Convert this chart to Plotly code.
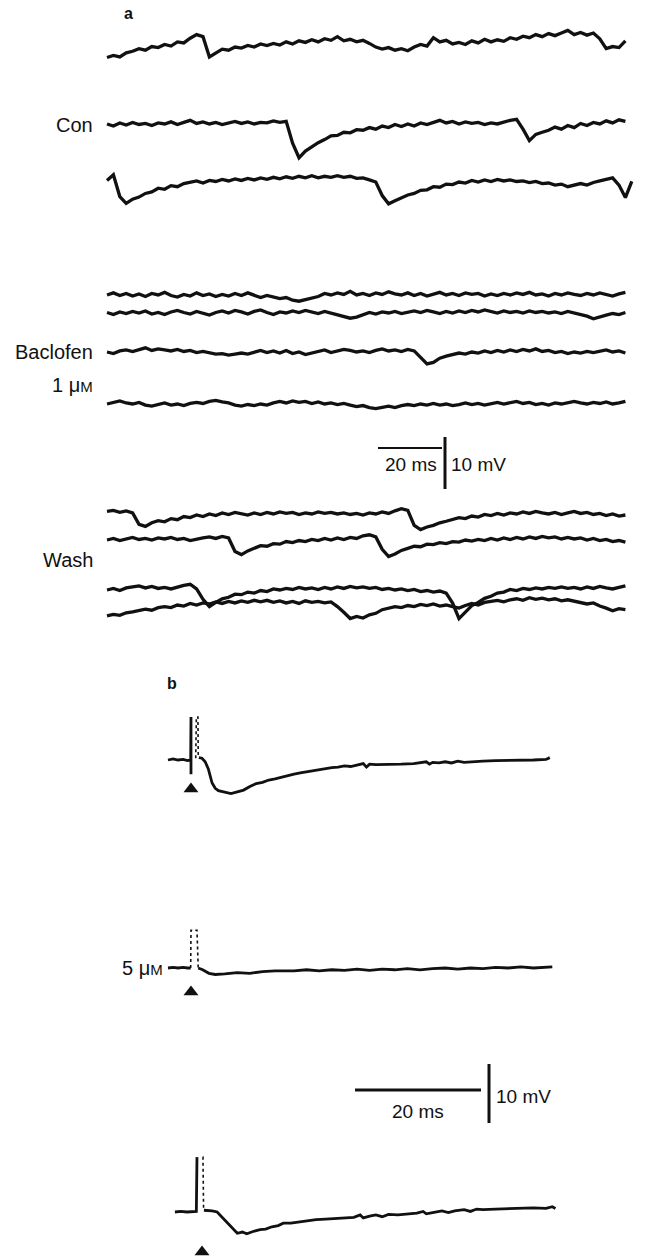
import plotly.graph_objects as go

# ---------------- DATA ----------------
# Panel a: membrane potential (mV, relative to each sweep's resting level), sampled every 2 ms
DT_A = 2.0
con_1 = [-2.4, -2.0, -2.3, -1.5, -1.2, -0.7, -1.0, -0.3, -0.5, 0.1, -0.2, 0.6, 0.4, 1.3, 2.0, 1.6,
         -2.3, -1.6, -0.8, -1.0, -0.4, -0.6, -0.1, -0.4, 0.2, -0.1, 0.3, 0.0, 0.6, 0.2, 0.8, 0.5,
         1.0, 0.6, 1.2, 0.9, 1.6, 0.8, 1.1, 0.6, 0.9, 0.3, -0.4, -0.8, -0.5, -1.0, -0.7, -1.1,
         -0.4, 0.1, -0.2, 1.4, 0.6, 0.9, 0.2, 0.5, 0.1, 0.8, 0.4, 1.1, 0.6, 1.0, 0.7, 1.4, 1.1,
         1.7, 1.4, 2.0, 1.6, 2.2, 1.8, 2.3, 2.8, 2.0, 2.4, 1.9, 2.3, 1.2, -0.7, -0.3, -0.5, 0.8]
con_2 = [0.2, -0.2, 0.4, 0.0, 0.5, 0.1, 0.3, -0.1, 0.4, 0.2, 0.6, 0.1, 0.5, 0.9, 0.3, 0.6,
         0.2, 0.5, 0.1, 0.4, 0.7, 0.3, 0.6, 0.2, 0.5, 0.4, 0.8, 0.5, 0.7, -3.5, -6.3, -5.0,
         -4.2, -3.4, -2.8, -2.1, -2.0, -1.4, -1.5, -0.9, -1.0, -0.5, -0.8, -0.2, -0.5, 0.1,
         -0.3, 0.2, -0.2, 0.4, 0.1, 0.5, 0.9, 0.4, 0.7, 0.2, 0.6, 0.3, 0.5, 0.1, 0.4, 0.2,
         0.6, 0.9, 1.1, -0.8, -3.0, -1.8, -1.4, -1.0, -0.4, -0.8, -0.1, -0.5, 0.3, -0.1, 0.5,
         0.2, 0.8, 0.4, 1.0, 0.7]
con_3 = [0.3, 1.4, -2.8, -4.1, -3.3, -2.9, -2.2, -1.9, -1.2, -1.4, -0.7, -0.9, -0.3, -0.1,
         0.2, -0.2, 0.3, 0.1, 0.5, 0.2, 0.6, 0.3, 0.7, 0.4, 0.8, 0.5, 0.9, 0.6, 1.0, 0.7, 1.1,
         0.8, 1.2, 0.8, 1.1, 0.9, 1.2, 0.9, 1.1, 0.7, 0.8, 0.4, 0.0, -2.6, -4.2, -3.6, -3.0,
         -2.5, -2.2, -1.6, -1.5, -0.9, -1.0, -0.4, -0.5, 0.0, -0.2, 0.3, 0.0, 0.4, 0.1, 0.5,
         0.2, 0.4, 0.1, 0.2, -0.1, 0.1, -0.3, -0.2, -0.6, -0.4, -0.9, -0.6, -0.3, -0.6, -0.1,
         0.2, 0.5, 0.8, -0.6, -3.0, 0.1]
bac_1 = [0.2, 0.6, 0.1, 0.5, 0.0, 0.4, -0.1, 0.5, 0.2, 0.7, 0.1, -0.2, 0.3, 0.0, 0.6, 0.1,
         0.4, -0.1, 0.3, 0.0, 0.5, 0.1, 0.6, 0.2, -0.3, 0.1, -0.2, -0.5, -0.3, -0.8, -1.0,
         -0.7, -0.4, -0.1, 0.5, 0.2, 0.6, 0.3, 0.9, 0.2, 0.5, 0.1, 0.6, 0.3, 0.8, 0.4, 0.2,
         0.6, 0.1, 0.5, 0.0, 0.4, 0.7, 0.2, 0.5, 0.1, 0.6, 0.3, 0.5, 0.0, 0.4, 0.1, 0.5, 0.2,
         0.6, 0.3, 0.7, 0.2, 0.4, 0.0, 0.5, 0.2, 0.6, 0.3, 0.1, 0.5, 0.2, 0.6, 0.3, 0.0, 0.4, 0.7]
bac_2 = [0.1, -0.3, 0.2, -0.1, 0.3, 0.0, 0.4, -0.2, 0.1, -0.3, 0.2, 0.5, 0.1, -0.2, 0.3, 0.0,
         -0.4, 0.1, 0.4, 0.0, 0.5, 0.2, -0.2, 0.3, 0.6, 0.1, -0.3, 0.2, 0.0, 0.4, 0.1, 0.5,
         0.2, -0.1, 0.3, 0.0, -0.3, -0.6, -1.0, -0.8, -0.3, 0.1, -0.2, 0.2, 0.0, 0.3, -0.1,
         0.2, 0.4, 0.1, 0.5, 0.2, -0.1, 0.3, 0.0, 0.4, 0.1, 0.5, 0.2, 0.6, 0.3, 0.0, 0.4, 0.1,
         0.3, 0.0, 0.4, 0.1, 0.3, 0.0, 0.2, -0.1, 0.3, 0.0, -0.3, -0.6, -1.1, -0.7, -0.4, -0.1,
         -0.3, 0.1]
bac_3 = [0.0, -0.3, 0.2, 0.4, 0.1, 0.5, 0.8, 0.3, 0.6, 0.4, 0.2, 0.5, 0.1, 0.3, -0.1, 0.1,
         -0.2, -0.4, -0.3, -0.6, -0.4, -0.2, -0.4, 0.0, 0.3, -0.1, 0.2, -0.2, 0.3, -0.3, 0.0,
         -0.5, -0.2, 0.1, 0.4, -0.1, 0.2, 0.5, 0.3, 0.0, 0.2, -0.1, 0.3, 0.6, 0.2, 0.4, 0.1,
         0.5, 0.2, -1.0, -2.3, -2.0, -1.2, -0.8, -0.5, -0.2, -0.4, 0.0, -0.2, 0.2, -0.1, 0.3,
         0.0, 0.4, 0.1, 0.5, 0.2, 0.6, 0.1, 0.3, -0.1, 0.1, -0.3, 0.0, -0.2, 0.1, -0.1, 0.2,
         0.4, 0.0, 0.2, -0.2]
bac_4 = [0.0, 0.3, 0.6, 0.2, 0.0, 0.3, -0.2, -0.4, -0.1, 0.2, -0.2, 0.0, -0.3, 0.1, 0.3, 0.1,
         0.5, 0.7, 0.4, 0.2, -0.2, -0.4, -0.1, -0.3, 0.0, -0.2, 0.2, 0.5, 0.2, 0.6, 0.3, 0.5,
         0.1, 0.4, 0.0, 0.2, -0.1, 0.1, -0.2, -0.5, -0.3, -0.7, -0.9, -0.6, -0.4, -0.7, -0.3,
         -0.1, -0.3, 0.0, -0.2, 0.1, -0.2, 0.0, -0.3, -0.1, 0.2, -0.1, 0.1, -0.2, 0.0, 0.3,
         0.0, 0.2, 0.5, 0.1, 0.3, -0.1, 0.1, -0.2, 0.2, 0.0, 0.3, 0.5, 0.2, 0.0, 0.3, 0.1, 0.4,
         0.0, 0.2, 0.5]
wash_1 = [0.7, 0.9, 0.5, 0.8, 0.4, -1.8, -2.2, -1.5, -1.1, -1.3, -0.7, -0.9, -0.3, -0.5, 0.0,
          -0.3, 0.2, -0.1, 0.4, 0.1, 0.5, 0.2, 0.0, 0.4, 0.1, 0.5, 0.2, 0.6, 0.3, 0.5, 0.1,
          0.4, 0.2, 0.6, 0.3, 0.5, 0.2, 0.4, 0.1, 0.3, 0.0, 0.4, 0.2, 0.6, 0.3, 0.8, 1.2, 0.9,
          -2.0, -2.8, -2.3, -2.0, -1.5, -1.2, -0.9, -0.5, -0.7, -0.2, -0.4, 0.1, -0.1, 0.3,
          0.0, 0.4, 0.2, 0.6, 0.3, 0.7, 0.4, 0.2, 0.5, 0.1, 0.4, 0.7, 0.3, 0.5, 0.1, 0.3, -0.1,
          0.2, -0.2, 0.0]
wash_2 = [0.0, 0.3, -0.1, 0.2, 0.5, 0.1, 0.3, 0.0, 0.4, 0.2, 0.5, 0.1, 0.3, -0.1, 0.2, 0.4,
          0.6, 0.3, 0.7, 0.4, -2.2, -2.8, -2.1, -1.6, -1.1, -1.2, -0.7, -0.8, -0.3, -0.5,
          -0.1, -0.3, 0.1, -0.1, 0.3, 0.0, 0.4, 0.1, 0.5, 0.3, 0.8, 1.0, 0.6, -1.8, -3.2,
          -2.7, -2.0, -1.6, -1.2, -1.3, -0.8, -0.9, -0.5, -0.7, -0.3, -0.4, 0.0, -0.2, 0.1,
          -0.1, 0.3, 0.0, 0.4, 0.1, 0.5, 0.2, 0.6, 0.3, 0.7, 0.4, 0.6, 0.2, 0.5, 0.2, 0.4, 0.0,
          0.3, -0.1, 0.1, -0.3, -0.1, -0.4]
wash_3 = [0.0, 0.3, -0.1, 0.4, 0.6, 0.8, 0.4, 0.7, 0.3, 0.5, 0.2, 0.6, 0.9, 1.1, 0.2, -1.8,
          -3.2, -2.4, -1.7, -1.4, -0.8, -0.9, -0.4, -0.6, -0.1, -0.3, 0.2, 0.0, 0.3, 0.1, 0.5,
          0.2, 0.4, 0.1, 0.5, 0.2, 0.6, 0.3, 0.7, 0.4, 0.6, 0.3, 0.5, 0.1, 0.3, 0.0, 0.2, -0.1,
          0.1, -0.3, -0.1, -0.4, -0.2, -0.6, -2.5, -5.5, -4.2, -3.0, -2.4, -1.6, -1.2, -0.6,
          -0.4, 0.1, -0.1, 0.3, 0.1, 0.4, 0.2, 0.5, 0.3, 0.6, 0.3, 0.5, 0.2, 0.6, 0.3, 0.7,
          0.4, 0.2, 0.5, 0.8]
wash_4 = [-2.1, -1.8, -2.0, -1.5, -1.3, -1.1, -0.8, -1.0, -0.5, -0.3, -0.5, 0.0, -0.2, 0.3,
          0.0, 0.4, 0.2, 0.6, 0.3, 0.7, 0.4, 0.8, 0.5, 0.9, 0.6, 0.9, 0.5, 0.8, 0.4, 0.7, 0.3,
          0.8, 0.5, 0.7, 0.4, 0.6, -0.3, -1.4, -2.6, -2.2, -2.5, -1.9, -1.6, -0.9, -0.6, -0.3,
          -0.5, -0.1, -0.3, 0.1, -0.1, 0.2, -0.2, 0.0, -0.3, -0.6, -0.1, 0.3, 0.0, 0.5, 0.7,
          0.9, 0.6, 1.0, 1.2, 0.9, 1.4, 1.1, 1.3, 1.0, 1.2, 0.8, 1.0, 0.7, 0.5, 0.2, 0.4, -0.2,
          -0.6, -1.1, -0.7, -0.9]

# Panel b: averaged responses (time ms from sweep start, mV relative to rest)
ctrl_t = [0, 0.8, 1.6, 2.4, 3.1, 3.6, 3.65, 3.65, None,
          4.9, 5.4, 5.9, 6.4, 7.0, 7.5, 8.0, 9.0, 10.0, 11.0, 12.0, 13.0, 14.0, 15.0, 16.0,
          17.0, 18.0, 19.0, 20.0, 21.0, 22.0, 23.0, 24.0, 25.0, 26.0, 27.0, 28.0, 29.0, 30.0,
          31.0, 31.5, 32.0, 33.0, 35.0, 37.0, 39.0, 40.0, 41.0, 41.5, 42.0, 43.0, 44.0, 45.0,
          46.0, 47.0, 48.0, 50.0, 52.0, 54.0, 56.0, 58.0, 60.0, 60.6]
ctrl_v = [0.0, 0.2, 0.0, 0.1, -0.1, 0.0, 7.3, -2.4, None,
          0.4, 0.3, -0.3, -1.5, -3.9, -4.8, -5.2, -5.5, -5.7, -5.4, -5.1, -4.5, -4.0, -3.8,
          -3.4, -3.2, -2.9, -2.6, -2.4, -2.2, -2.0, -1.8, -1.6, -1.5, -1.3, -1.2, -1.0, -1.1,
          -0.9, -0.6, -1.2, -0.7, -0.8, -0.8, -0.7, -0.6, -0.5, -0.3, -0.7, -0.4, -0.5, -0.3,
          -0.5, -0.2, -0.4, -0.3, -0.2, -0.1, -0.1, 0.0, 0.0, 0.1, 0.4]
ctrl_spike_t = [4.4, 4.5, 4.75, 4.8]
ctrl_spike_v = [0.3, 7.3, 7.3, 0.4]

bac5_t = [0, 0.8, 1.6, 2.4, 3.1, 3.6, None,
          4.8, 5.5, 6.5, 7.5, 9.0, 11.0, 13.0, 15.0, 17.0, 20.0, 22.0, 24.0, 26.0, 28.0, 30.0,
          32.0, 34.0, 36.0, 38.0, 40.0, 42.0, 44.0, 46.0, 48.0, 50.0, 52.0, 54.0, 56.0, 58.0,
          60.0, 61.0]
bac5_v = [0.0, 0.1, 0.0, 0.1, 0.0, 0.0, None,
          0.0, -0.3, -0.9, -1.1, -1.0, -0.8, -0.9, -0.6, -0.5, -0.5, -0.3, -0.5, -0.3, -0.4,
          -0.2, -0.4, -0.2, -0.3, -0.1, -0.3, -0.1, 0.0, -0.2, 0.0, -0.1, 0.1, 0.0, 0.2, 0.0,
          0.1, 0.2]
bac5_spike_t = [3.6, 3.65, 4.6, 4.7, 4.8]
bac5_spike_v = [0.0, 6.4, 6.4, 0.3, 0.0]

wash_b_t = [1.1, 2.0, 3.0, 4.5, 4.6, None,
            5.7, 6.2, 7.0, 7.8, 8.5, 9.3, 10.2, 11.0, 11.8, 12.5, 13.5, 14.6, 15.5, 16.5, 17.5,
            18.3, 19.5, 20.6, 22.0, 23.5, 25.0, 26.5, 28.0, 29.5, 30.5, 31.0, 32.0, 33.0, 34.0,
            35.0, 36.5, 38.0, 39.5, 40.5, 41.0, 42.0, 43.5, 44.5, 45.5, 47.0, 48.0, 49.0, 50.0,
            52.0, 54.0, 56.0, 58.0, 60.0, 61.0, 61.5]
wash_b_v = [0.0, 0.1, 0.0, 0.1, 9.3, None,
            0.3, 0.3, 0.2, 0.0, -0.8, -1.8, -2.8, -3.6, -3.4, -3.7, -3.3, -3.0, -2.9, -2.5,
            -2.3, -1.9, -1.9, -1.7, -1.5, -1.3, -1.2, -1.1, -1.0, -0.9, -0.5, -1.0, -0.7, -0.5,
            -0.8, -0.4, -0.5, -0.3, -0.2, 0.1, -0.3, -0.1, 0.2, -0.1, 0.2, 0.4, 0.1, 0.5, 0.4,
            0.5, 0.6, 0.7, 0.7, 0.6, 0.9, 0.6]
wash_b_spike_t = [5.5, 5.55, 5.65]
wash_b_spike_v = [9.3, 9.3, 0.3]

stim_times_b = [3.65, 3.65, 5.4]
scale_ms = 20
scale_mV = 10

# ---------------- LAYOUT CONSTANTS (pixels) ----------------
W, H = 645, 1260
SPLIT = 650                     # boundary between panel a and panel b
INK = "#111111"
FONT = "Liberation Sans, Arial, sans-serif"

X0_A, PXMS_A, PXMV_A = 107, 3.2, 5.2
X0_B, PXMS_B, PXMV_B = 168, 6.3, 5.9

base_a = {"con_1": 45, "con_2": 125, "con_3": 182,
          "bac_1": 296, "bac_2": 313, "bac_3": 352, "bac_4": 404,
          "wash_1": 515, "wash_2": 540, "wash_3": 590, "wash_4": 605}
series_a = {"con_1": con_1, "con_2": con_2, "con_3": con_3,
            "bac_1": bac_1, "bac_2": bac_2, "bac_3": bac_3, "bac_4": bac_4,
            "wash_1": wash_1, "wash_2": wash_2, "wash_3": wash_3, "wash_4": wash_4}
base_b = [760, 968, 1212]
arrow_drop_b = [29, 24, 40]

fig = go.Figure()


def off_a(py):
    return -py / PXMV_A


def off_b(py):
    return -(py - SPLIT) / PXMV_B


for name, vals in series_a.items():
    o = off_a(base_a[name])
    fig.add_trace(go.Scatter(
        x=[DT_A * i for i in range(len(vals))], y=[o + v for v in vals],
        mode="lines", line=dict(color=INK, width=3.3), xaxis="x", yaxis="y",
        hoverinfo="skip", showlegend=False))

b_sets = [(ctrl_t, ctrl_v, ctrl_spike_t, ctrl_spike_v),
          (bac5_t, bac5_v, bac5_spike_t, bac5_spike_v),
          (wash_b_t, wash_b_v, wash_b_spike_t, wash_b_spike_v)]
for (tt, vv, st, sv), bpx in zip(b_sets, base_b):
    o = off_b(bpx)
    fig.add_trace(go.Scatter(
        x=tt, y=[None if v is None else o + v for v in vv], mode="lines",
        line=dict(color=INK, width=2.8), xaxis="x2", yaxis="y2",
        hoverinfo="skip", showlegend=False, connectgaps=False))
    fig.add_trace(go.Scatter(
        x=st, y=[o + v for v in sv], mode="lines",
        line=dict(color=INK, width=1.6, dash="dot"), xaxis="x2", yaxis="y2",
        hoverinfo="skip", showlegend=False))

# stimulus arrowheads
fig.add_trace(go.Scatter(
    x=stim_times_b, y=[off_b(b + d) for b, d in zip(base_b, arrow_drop_b)],
    mode="markers", marker=dict(symbol="triangle-up", size=13, color=INK),
    xaxis="x2", yaxis="y2", hoverinfo="skip", showlegend=False))

# scale bars, panel a
sa_t0 = (378 - X0_A) / PXMS_A
sa_y = off_a(448)
fig.add_trace(go.Scatter(x=[sa_t0, sa_t0 + scale_ms], y=[sa_y, sa_y], mode="lines",
                         line=dict(color=INK, width=2.2), xaxis="x", yaxis="y",
                         hoverinfo="skip", showlegend=False))
sa_vx = (445 - X0_A) / PXMS_A
sa_vy = off_a(489)
fig.add_trace(go.Scatter(x=[sa_vx, sa_vx], y=[sa_vy, sa_vy + scale_mV], mode="lines",
                         line=dict(color=INK, width=3), xaxis="x", yaxis="y",
                         hoverinfo="skip", showlegend=False))
# scale bars, panel b
sb_t0 = (355 - X0_B) / PXMS_B
sb_y = off_b(1090)
fig.add_trace(go.Scatter(x=[sb_t0, sb_t0 + scale_ms], y=[sb_y, sb_y], mode="lines",
                         line=dict(color=INK, width=3), xaxis="x2", yaxis="y2",
                         hoverinfo="skip", showlegend=False))
sb_vx = (489 - X0_B) / PXMS_B
sb_vy = off_b(1123)
fig.add_trace(go.Scatter(x=[sb_vx, sb_vx], y=[sb_vy, sb_vy + scale_mV], mode="lines",
                         line=dict(color=INK, width=3), xaxis="x2", yaxis="y2",
                         hoverinfo="skip", showlegend=False))


def label(text, px, py, xanchor="right", size=20, bold=False):
    fig.add_annotation(
        text=f"<b>{text}</b>" if bold else text, x=px / W, y=1 - py / H,
        xref="paper", yref="paper", xanchor=xanchor, yanchor="middle",
        showarrow=False, font=dict(family=FONT, size=size, color=INK))


label("a", 128, 14, xanchor="center", size=16, bold=True)
label("Con", 95, 125)
label("Baclofen", 95, 352)
label("1 μ<span style='font-size:15px'>M</span>", 95, 385)
label("Wash", 95, 560)
label("20 ms", 411, 464, xanchor="center", size=19)
label("10 mV", 449, 464, xanchor="left", size=19)
label("b", 172, 683, xanchor="center", size=16, bold=True)
label("5 μ<span style='font-size:15px'>M</span>", 165, 968)
label("20 ms", 418, 1111, xanchor="center", size=19)
label("10 mV", 494, 1096, xanchor="left", size=19)

hidden = dict(visible=False, showgrid=False, zeroline=False, fixedrange=True)
fig.update_layout(
    width=W, height=H, margin=dict(l=0, r=0, t=0, b=0),
    paper_bgcolor="white", plot_bgcolor="white", showlegend=False,
    xaxis=dict(domain=[0, 1], range=[-X0_A / PXMS_A, (W - X0_A) / PXMS_A], anchor="y", **hidden),
    yaxis=dict(domain=[1 - SPLIT / H, 1], range=[-SPLIT / PXMV_A, 0], anchor="x", **hidden),
    xaxis2=dict(domain=[0, 1], range=[-X0_B / PXMS_B, (W - X0_B) / PXMS_B], anchor="y2", **hidden),
    yaxis2=dict(domain=[0, 1 - SPLIT / H], range=[-(H - SPLIT) / PXMV_B, 0], anchor="x2", **hidden),
)
fig.write_html("out.html")
